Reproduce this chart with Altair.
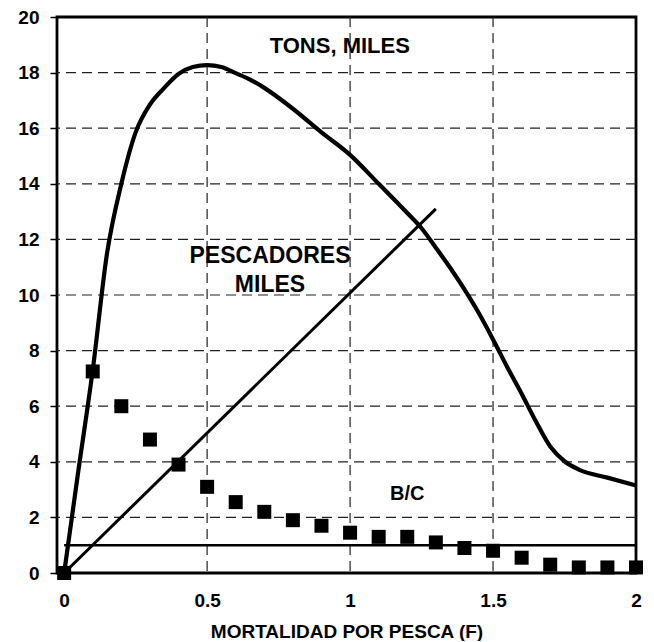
import altair as alt
import pandas as pd

# TONS, MILES curve
f_curve = [0, 0.05, 0.1, 0.15, 0.2, 0.25, 0.3, 0.35, 0.4, 0.45, 0.5, 0.55, 0.6, 0.65, 0.7, 0.8,
           0.9, 1.0, 1.1, 1.2, 1.25, 1.3, 1.35, 1.4, 1.45, 1.5, 1.55, 1.6, 1.65, 1.7, 1.75, 1.8, 1.9, 2.0]
tons = [0, 3.7, 7.3, 11.5, 14.0, 15.85, 16.85, 17.45, 17.95, 18.2, 18.27, 18.2, 17.98, 17.75, 17.45, 16.7,
        15.85, 15.04, 14.0, 12.95, 12.4, 11.7, 10.98, 10.2, 9.35, 8.4, 7.4, 6.45, 5.45, 4.55, 4.02, 3.72, 3.43, 3.15]

# PESCADORES, MILES straight line
f_pesc = [0, 1.3]
pescadores = [0, 13.1]

# B/C squares
f_bc = [0, 0.1, 0.2, 0.3, 0.4, 0.5, 0.6, 0.7, 0.8, 0.9, 1.0,
        1.1, 1.2, 1.3, 1.4, 1.5, 1.6, 1.7, 1.8, 1.9, 2.0]
bc = [0, 7.25, 6.0, 4.8, 3.9, 3.1, 2.55, 2.2, 1.9, 1.7, 1.45,
      1.3, 1.3, 1.1, 0.9, 0.8, 0.55, 0.3, 0.2, 0.2, 0.2]

# B/C = 1 reference line
ref_x = [0]
ref_x2 = [2]
ref_y = [1]

# grid
grid_y = [2, 4, 6, 8, 10, 12, 14, 16, 18]
grid_x = [0.5, 1, 1.5]

# ticks
x_ticks = [0, 0.5, 1, 1.5, 2]
y_ticks = [0, 2, 4, 6, 8, 10, 12, 14, 16, 18, 20]

# labels
lab_text = ["TONS, MILES", "PESCADORES", "MILES", "B/C"]
lab_x = [0.964, 0.72, 0.72, 1.2]
lab_y = [18.94, 11.4, 10.36, 2.84]
lab_size = [22, 23, 23, 20]

FONT = "Liberation Sans"

xs = alt.Scale(domain=[-0.025, 2], nice=False, zero=False)
ys = alt.Scale(domain=[0, 20], nice=False)

x_axis = alt.Axis(values=x_ticks, format="~g", grid=False, domain=False, ticks=False,
                  labelFont=FONT, labelFontSize=19, labelFontWeight="bold", labelColor="black",
                  labelPadding=18, labelFlush=False, labelOverlap=False,
                  title="MORTALIDAD POR PESCA (F)", titleFont=FONT, titleFontSize=19,
                  titleFontWeight="bold", titleColor="black", titlePadding=12)
y_axis = alt.Axis(values=y_ticks, format="~g", grid=False, domain=False, ticks=True,
                  tickSize=7, tickColor="black", tickWidth=1.5,
                  labelFont=FONT, labelFontSize=19, labelFontWeight="bold", labelColor="black",
                  labelPadding=11, labelFlush=False, labelOverlap=False, title=None)

df_curve = pd.DataFrame({"F": f_curve, "v": tons})
df_pesc = pd.DataFrame({"F": f_pesc, "v": pescadores})
df_bc = pd.DataFrame({"F": f_bc, "v": bc})
df_ref = pd.DataFrame({"x": ref_x, "x2": ref_x2, "y": ref_y})
df_gy = pd.DataFrame({"y": grid_y})
df_gx = pd.DataFrame({"x": grid_x})
df_lab = pd.DataFrame({"t": lab_text, "x": lab_x, "y": lab_y, "s": lab_size})

base_axes = alt.Chart(df_curve).mark_line(
    color="black", strokeWidth=4.2, interpolate="monotone"
).encode(
    x=alt.X("F:Q", scale=xs, axis=x_axis),
    y=alt.Y("v:Q", scale=ys, axis=y_axis),
)

grid_h = alt.Chart(df_gy).mark_rule(color="#222222", strokeWidth=1.2, strokeDash=[10, 6]).encode(
    y=alt.Y("y:Q", scale=ys)
)
grid_v = alt.Chart(df_gx).mark_rule(color="#222222", strokeWidth=1.2, strokeDash=[10, 6]).encode(
    x=alt.X("x:Q", scale=xs)
)

pesc = alt.Chart(df_pesc).mark_line(color="black", strokeWidth=3).encode(
    x=alt.X("F:Q", scale=xs), y=alt.Y("v:Q", scale=ys)
)

ref = alt.Chart(df_ref).mark_rule(color="black", strokeWidth=2.5).encode(
    x=alt.X("x:Q", scale=xs), x2="x2:Q", y=alt.Y("y:Q", scale=ys)
)

squares = alt.Chart(df_bc).mark_point(shape="square", filled=True, color="black",
                                      size=196, opacity=1).encode(
    x=alt.X("F:Q", scale=xs), y=alt.Y("v:Q", scale=ys)
)

labels = alt.Chart(df_lab).mark_text(font=FONT, fontWeight="bold", color="black",
                                     align="center", baseline="middle").encode(
    x=alt.X("x:Q", scale=xs), y=alt.Y("y:Q", scale=ys), text="t:N",
    size=alt.Size("s:Q", scale=None, legend=None)
)

chart = alt.layer(grid_h, grid_v, ref, pesc, base_axes, squares, labels).properties(
    width=579, height=556,
    autosize=alt.AutoSizeParams(type="none"),
    padding={"left": 49, "top": 9, "right": 10, "bottom": 68},
    background="white",
).configure_view(stroke="black", strokeWidth=2.8)

chart.save("out.html", embed_options={"renderer": "svg", "actions": False})
